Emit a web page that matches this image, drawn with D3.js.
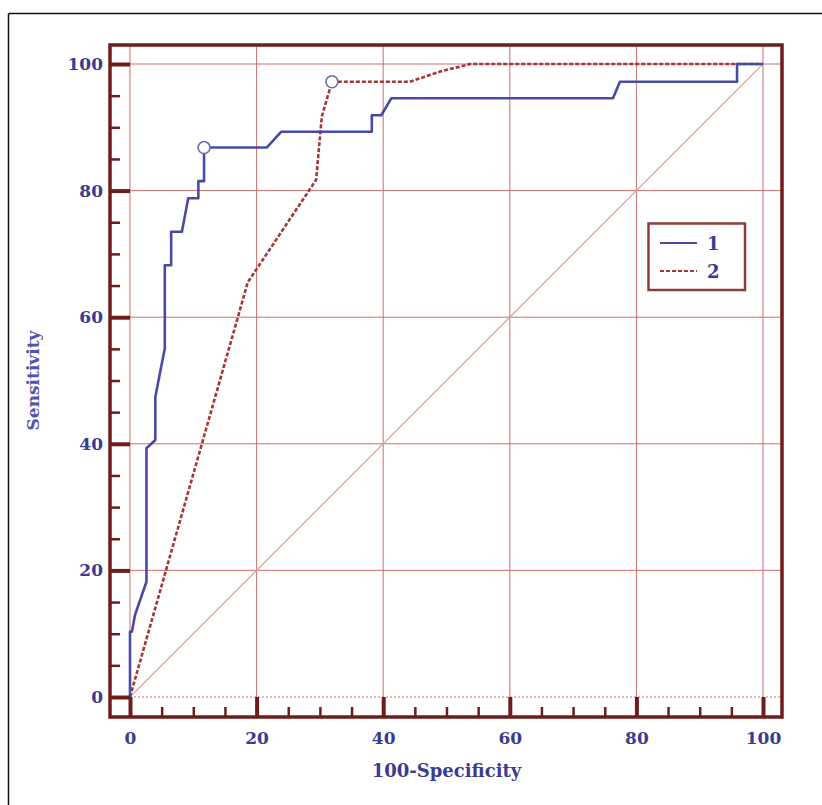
<!DOCTYPE html>
<html>
<head>
<meta charset="utf-8">
<script src="https://cdn.jsdelivr.net/npm/d3@7"></script>
<style>
  html, body { margin: 0; padding: 0; background: #fff; }
  svg { display: block; }
</style>
</head>
<body>
<svg id="chart" width="822" height="805"></svg>
<script>
// ---- Data ----
const series1Name = "1";
const series2Name = "2";
// Series 1 ROC (100-Specificity, Sensitivity)
const series1X = [0, 0, 0.3, 0.8, 2.6, 2.6, 4.0, 4.0, 5.5, 5.5, 6.5, 6.5, 8.2, 9.2, 10.8, 10.8, 11.7, 11.7, 21.6, 23.9, 38.2, 38.2, 39.7, 41.3, 76.3, 77.4, 95.9, 95.9, 100];
const series1Y = [0, 10.3, 10.3, 13.0, 18.2, 39.3, 40.6, 47.4, 55.1, 68.2, 68.2, 73.5, 73.5, 78.8, 78.8, 81.5, 81.5, 86.8, 86.8, 89.3, 89.3, 91.9, 91.9, 94.6, 94.6, 97.2, 97.2, 100, 100];
// Series 2 ROC
const series2X = [0, 18.6, 29.4, 30.3, 31.9, 44.2, 49.0, 53.7, 100];
const series2Y = [0, 65.5, 81.7, 91.7, 97.2, 97.2, 98.8, 100, 100];
// Optimal cut-off markers
const markerX = [11.7, 31.9];
const markerY = [86.8, 97.2];
// Ticks
const majorTicks = [0, 20, 40, 60, 80, 100];
const minorTicks = [5, 10, 15, 25, 30, 35, 45, 50, 55, 65, 70, 75, 85, 90, 95];
const xAxisTitle = "100-Specificity";
const yAxisTitle = "Sensitivity";

// ---- Layout ----
const svg = d3.select("#chart");
const x = d3.scaleLinear().domain([0, 100]).range([130, 763]);
const y = d3.scaleLinear().domain([0, 100]).range([697, 64]);
const lo = -3.16, hi = 103.0;
const fL = x(lo), fR = x(hi), fT = y(hi), fB = y(lo);

const FONT = "'DejaVu Serif', 'Liberation Serif', serif";
const frameColor = "#6e1c1c";
const gridColor = "#cc7070";
const blue = "#4a4aa6";
const red = "#a83535";
const labelColor = "#3b3b92";

// Outer page border (top + left only)
svg.append("line").attr("x1", 8.5).attr("x2", 822).attr("y1", 13.5).attr("y2", 13.5)
  .attr("stroke", "#111").attr("stroke-width", 1.5);
svg.append("line").attr("x1", 8.5).attr("x2", 8.5).attr("y1", 13.5).attr("y2", 805)
  .attr("stroke", "#111").attr("stroke-width", 1.5);

// Grid
const grid = svg.append("g");
grid.selectAll("line.gx").data(majorTicks).join("line")
  .attr("x1", d => x(d)).attr("x2", d => x(d)).attr("y1", fT).attr("y2", fB)
  .attr("stroke", gridColor).attr("stroke-width", 1);
grid.selectAll("line.gy").data(majorTicks).join("line")
  .attr("x1", fL).attr("x2", fR).attr("y1", d => y(d)).attr("y2", d => y(d))
  .attr("stroke", gridColor).attr("stroke-width", 1)
  .attr("stroke-dasharray", d => d === 0 ? "2,2" : null);

// Diagonal reference
svg.append("line").attr("x1", x(0)).attr("y1", y(0)).attr("x2", x(100)).attr("y2", y(100))
  .attr("stroke", "#d9aaa2").attr("stroke-width", 1.3);

// Curves
const line = d3.line().x(d => x(d[0])).y(d => y(d[1]));
const s1 = series1X.map((v, i) => [v, series1Y[i]]);
const s2 = series2X.map((v, i) => [v, series2Y[i]]);
svg.append("path").datum(s2).attr("d", line).attr("fill", "none")
  .attr("stroke", red).attr("stroke-width", 2.6).attr("stroke-dasharray", "4,2");
svg.append("path").datum(s1).attr("d", line).attr("fill", "none")
  .attr("stroke", blue).attr("stroke-width", 2.6).attr("stroke-linejoin", "round");

// Markers
svg.selectAll("circle.mk").data(markerX.map((v, i) => [v, markerY[i]])).join("circle")
  .attr("cx", d => x(d[0])).attr("cy", d => y(d[1])).attr("r", 6)
  .attr("fill", "#fff").attr("stroke", "#6b6bb5").attr("stroke-width", 1.6);

// Axes (ticks inward)
const xAxisG = svg.append("g").attr("transform", `translate(0,${fB})`)
  .call(d3.axisBottom(x).tickValues(majorTicks).tickSize(-20).tickPadding(15).tickFormat(d3.format("d")));
const xMinor = svg.append("g").attr("transform", `translate(0,${fB})`)
  .call(d3.axisBottom(x).tickValues(minorTicks).tickSize(-10).tickFormat(""));
const yAxisG = svg.append("g").attr("transform", `translate(${fL},0)`)
  .call(d3.axisLeft(y).tickValues(majorTicks).tickSize(-20).tickPadding(7).tickFormat(d3.format("d")));
const yMinor = svg.append("g").attr("transform", `translate(${fL},0)`)
  .call(d3.axisLeft(y).tickValues(minorTicks).tickSize(-10).tickFormat(""));

[xAxisG, xMinor, yAxisG, yMinor].forEach(g => {
  g.select(".domain").remove();
  g.selectAll(".tick line").attr("stroke", frameColor);
  g.selectAll(".tick text").attr("fill", labelColor).attr("font-family", FONT)
    .attr("font-weight", "bold").attr("font-size", 17);
});
xAxisG.selectAll(".tick line").attr("stroke-width", 4);
yAxisG.selectAll(".tick line").attr("stroke-width", 4);
xMinor.selectAll(".tick line").attr("stroke-width", 2.5);
yMinor.selectAll(".tick line").attr("stroke-width", 2.5);

// Frame
svg.append("rect").attr("x", fL).attr("y", fT).attr("width", fR - fL).attr("height", fB - fT)
  .attr("fill", "none").attr("stroke", frameColor).attr("stroke-width", 3.5);

// Axis titles
svg.append("text").attr("x", x(50)).attr("y", 777).attr("text-anchor", "middle")
  .attr("font-family", FONT).attr("font-weight", "bold").attr("font-size", 18)
  .attr("fill", labelColor).text(xAxisTitle);
svg.append("text").attr("transform", `translate(39,${y(50)}) rotate(-90)`).attr("text-anchor", "middle")
  .attr("font-family", FONT).attr("font-weight", "bold").attr("font-size", 17)
  .attr("fill", "#5252ae").text(yAxisTitle);

// Legend
const lg = svg.append("g");
lg.append("rect").attr("x", 648.5).attr("y", 223.5).attr("width", 96.5).attr("height", 66.5)
  .attr("fill", "#fff").attr("stroke", "#8a3c3c").attr("stroke-width", 2.5);
const legendItems = [
  { name: series1Name, color: blue, dash: null, yy: 243 },
  { name: series2Name, color: red, dash: "4,2", yy: 271 }
];
lg.selectAll("line.li").data(legendItems).join("line")
  .attr("x1", 660).attr("x2", 697).attr("y1", d => d.yy).attr("y2", d => d.yy)
  .attr("stroke", d => d.color).attr("stroke-width", 2).attr("stroke-dasharray", d => d.dash);
lg.selectAll("text.lt").data(legendItems).join("text")
  .attr("x", 707).attr("y", d => d.yy + 7)
  .attr("font-family", FONT).attr("font-weight", "bold").attr("font-size", 18)
  .attr("fill", labelColor).text(d => d.name);
</script>
</body>
</html>
